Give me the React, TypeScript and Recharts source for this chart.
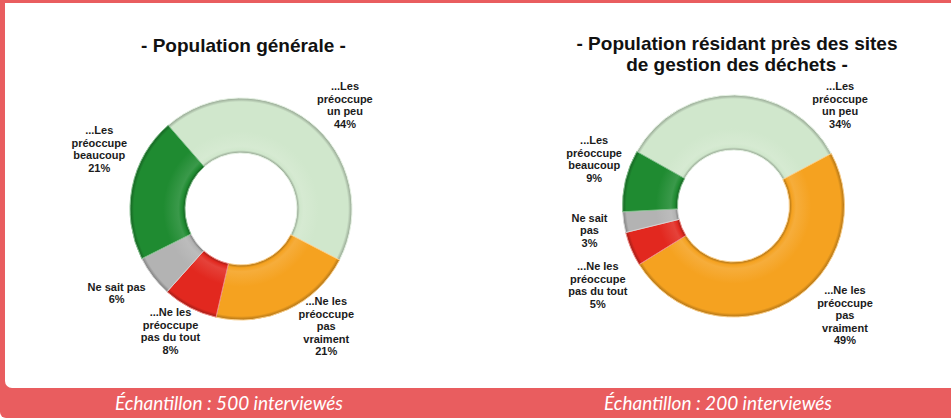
import { PieChart, Pie, Cell } from "recharts";

// slice order, clockwise from the top-left boundary
const SEGMENTS = [
  "...Les préoccupe un peu",
  "...Ne les préoccupe pas vraiment",
  "...Ne les préoccupe pas du tout",
  "Ne sait pas",
  "...Les préoccupe beaucoup",
];
const GENERAL_VALUES = [44, 21, 8, 6, 21];
const RESIDENT_VALUES = [34, 49, 5, 3, 9];

const GENERAL_LABEL_LINES = [
  ["...Les", "préoccupe", "un peu"],
  ["...Ne les", "préoccupe", "pas", "vraiment"],
  ["...Ne les", "préoccupe", "pas du tout"],
  ["Ne sait pas"],
  ["...Les", "préoccupe", "beaucoup"],
];
const RESIDENT_LABEL_LINES = [
  ["...Les", "préoccupe", "un peu"],
  ["...Ne les", "préoccupe", "pas", "vraiment"],
  ["...Ne les", "préoccupe", "pas du tout"],
  ["Ne sait", "pas"],
  ["...Les", "préoccupe", "beaucoup"],
];

const GENERAL_TITLE = ["- Population générale -"];
const RESIDENT_TITLE = ["- Population résidant près des sites", "de gestion des déchets -"];
const GENERAL_SAMPLE = "Échantillon : 500 interviewés";
const RESIDENT_SAMPLE = "Échantillon : 200 interviewés";

const COLORS = ["#d0e7cc", "#f5a220", "#e2281f", "#b3b3b3", "#1f8b31"];
const FRAME = "#e95d5f";
const LABEL_FONT = "'Liberation Sans', Arial, sans-serif";
const LINE_H = 12.5;
const RAD = Math.PI / 180;
const INNER_R = 56;
const OUTER_R = 111;

function mix(hex: string, target: number, t: number) {
  const n = parseInt(hex.slice(1), 16);
  const ch = [(n >> 16) & 255, (n >> 8) & 255, n & 255].map((c) =>
    Math.round(c + (target - c) * t)
  );
  return "#" + ch.map((c) => c.toString(16).padStart(2, "0")).join("");
}

interface DonutProps {
  id: string;
  values: number[];
  lines: string[][];
  left: number;
  width: number;
  cx: number;
  cy: number;
  startAngle: number;
  labelAngles: number[];
  labelRadii: number[];
}

function Donut({ id, values, lines, left, width, cx, cy, startAngle, labelAngles, labelRadii }: DonutProps) {
  const data = SEGMENTS.map((name, i) => ({ name, value: values[i] }));

  const renderLabel = (p: any) => {
    const i = p.index;
    const a = labelAngles[i] * RAD;
    const x = p.cx + labelRadii[i] * Math.cos(a);
    const y = p.cy - labelRadii[i] * Math.sin(a);
    const rows = [...lines[i], `${values[i]}%`];
    const y0 = y - ((rows.length - 1) * LINE_H) / 2 + 4;
    return (
      <text
        key={`lbl-${i}`}
        x={x}
        y={y0}
        textAnchor="middle"
        fontFamily={LABEL_FONT}
        fontSize={11}
        fontWeight={700}
        fill="#1b1b1b"
      >
        {rows.map((r, k) => (
          <tspan key={k} x={x} y={y0 + k * LINE_H}>
            {r}
          </tspan>
        ))}
      </text>
    );
  };

  const edge = INNER_R / OUTER_R;

  return (
    <div style={{ position: "absolute", left, top: 0 }}>
      <PieChart width={width} height={388} margin={{ top: 0, right: 0, bottom: 0, left: 0 }}>
        <defs>
          {COLORS.map((c, i) => (
            <radialGradient
              key={i}
              id={`${id}-g${i}`}
              gradientUnits="userSpaceOnUse"
              cx={cx}
              cy={cy}
              r={OUTER_R}
            >
              <stop offset={edge} stopColor={mix(c, 0, 0.3)} />
              <stop offset={edge + 0.025} stopColor={c} />
              <stop offset={edge + 0.06} stopColor={mix(c, 255, 0.12)} />
              <stop offset={0.7} stopColor={c} />
              <stop offset={0.965} stopColor={c} />
              <stop offset={1} stopColor={mix(c, 0, 0.3)} />
            </radialGradient>
          ))}
        </defs>
        <Pie
          data={data}
          dataKey="value"
          nameKey="name"
          cx={cx}
          cy={cy}
          innerRadius={INNER_R}
          outerRadius={OUTER_R}
          startAngle={startAngle}
          endAngle={startAngle - 360}
          label={renderLabel}
          labelLine={false}
          isAnimationActive={false}
        >
          {data.map((d, i) => (
            <Cell
              key={d.name}
              fill={`url(#${id}-g${i})`}
              stroke={mix(COLORS[i], 255, 0.45)}
              strokeWidth={1}
            />
          ))}
        </Pie>
      </PieChart>
    </div>
  );
}

const titleStyle = {
  position: "absolute" as const,
  top: 33,
  textAlign: "center" as const,
  fontFamily: LABEL_FONT,
  fontWeight: 700,
  fontSize: 19,
  lineHeight: "21px",
  color: "#111",
  whiteSpace: "nowrap" as const,
};

const sampleStyle = {
  position: "absolute" as const,
  top: 388,
  height: 30,
  lineHeight: "30px",
  textAlign: "center" as const,
  fontFamily: "Lato, 'Open Sans', sans-serif",
  fontStyle: "italic" as const,
  fontSize: 19,
  color: "#fff",
};

export default function App() {
  return (
    <div
      style={{
        position: "absolute",
        left: 0,
        top: 0,
        width: 951,
        height: 418,
        background: FRAME,
        borderBottomLeftRadius: 6,
        overflow: "hidden",
      }}
    >
      <div
        style={{
          position: "absolute",
          left: 5,
          top: 3,
          width: 946,
          height: 385,
          background: "#fff",
          borderBottomLeftRadius: 7,
        }}
      />
      <div style={{ ...titleStyle, left: 0, width: 487, top: 35 }}>
        {GENERAL_TITLE.map((t) => (
          <div key={t}>{t}</div>
        ))}
      </div>
      <div style={{ ...titleStyle, left: 475, width: 524 }}>
        {RESIDENT_TITLE.map((t) => (
          <div key={t}>{t}</div>
        ))}
      </div>
      <Donut
        id="gen"
        values={GENERAL_VALUES}
        lines={GENERAL_LABEL_LINES}
        left={0}
        width={475}
        cx={241}
        cy={209}
        startAngle={131}
        labelAngles={[45, -54, -120, -146, 157]}
        labelRadii={[147, 145, 141, 150, 154]}
      />
      <Donut
        id="res"
        values={RESIDENT_VALUES}
        lines={RESIDENT_LABEL_LINES}
        left={475}
        width={476}
        cx={258.5}
        cy={206}
        startAngle={150.6}
        labelAngles={[43.5, -44.4, -149.8, -170.5, 161.4]}
        labelRadii={[147, 156, 157, 146, 147]}
      />
      <div style={{ ...sampleStyle, left: 0, width: 458 }}>{GENERAL_SAMPLE}</div>
      <div style={{ ...sampleStyle, left: 475, width: 486 }}>{RESIDENT_SAMPLE}</div>
    </div>
  );
}
